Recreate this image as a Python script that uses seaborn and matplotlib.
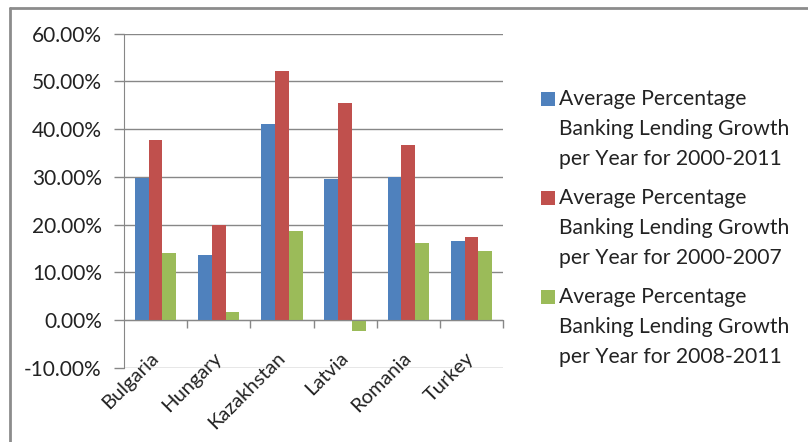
import matplotlib
matplotlib.use("Agg")
import matplotlib.pyplot as plt
from matplotlib.ticker import PercentFormatter, FixedLocator
from matplotlib.lines import Line2D
from matplotlib.patches import Rectangle
import seaborn as sns
import pandas as pd

countries = ["Bulgaria", "Hungary", "Kazakhstan", "Latvia", "Romania", "Turkey"]
growth_2000_2011 = [29.7, 13.7, 41.0, 29.5, 30.0, 16.5]
growth_2000_2007 = [37.7, 19.9, 52.1, 45.4, 36.7, 17.4]
growth_2008_2011 = [14.1, 1.7, 18.6, -2.3, 16.2, 14.6]
series_labels = [
    "Average Percentage\nBanking Lending Growth\nper Year for 2000-2011",
    "Average Percentage\nBanking Lending Growth\nper Year for 2000-2007",
    "Average Percentage\nBanking Lending Growth\nper Year for 2008-2011",
]
colors = ["#4F81BD", "#C0504D", "#9BBB59"]
y_ticks = [-10, 0, 10, 20, 30, 40, 50, 60]

sns.set_style("white")
plt.rcParams["font.family"] = ["Lato", "DejaVu Sans"]
plt.rcParams["axes.unicode_minus"] = False

rows = []
for label, vals in zip(series_labels, [growth_2000_2011, growth_2000_2007, growth_2008_2011]):
    for c, v in zip(countries, vals):
        rows.append({"Country": c, "Series": label, "Growth": v})
df = pd.DataFrame(rows)

W, H = 808, 442
fig = plt.figure(figsize=(W / 100, H / 100), dpi=100)
ax = fig.add_axes([124 / W, 1 - 368 / H, (503 - 124) / W, (368 - 33.7) / H])

sns.barplot(data=df, x="Country", y="Growth", hue="Series", order=countries,
            hue_order=series_labels, palette=colors, errorbar=None,
            width=0.656, linewidth=0, saturation=1, legend=False, ax=ax)

grid_c = "#878787"
text_c = "#222222"
ax.set_xlim(-0.5, 5.5)
ax.set_ylim(-10, 60)
ax.yaxis.set_major_locator(FixedLocator(y_ticks))
ax.yaxis.set_major_formatter(PercentFormatter(xmax=100, decimals=2))
ax.set_axisbelow(True)
ax.yaxis.grid(True, color=grid_c, linewidth=1)
ax.xaxis.grid(False)
ax.set_xlabel("")
ax.set_ylabel("")

for s in ["top", "right"]:
    ax.spines[s].set_visible(False)
ax.spines["left"].set_color(grid_c)
ax.spines["bottom"].set_color(grid_c)
ax.spines["bottom"].set_position(("data", 0))

ax.tick_params(axis="y", which="major", direction="out", length=7, width=1,
               color=grid_c, pad=9, labelsize=15, labelcolor=text_c, left=True)
ax.set_xticks(range(len(countries)))
ax.set_xticklabels(countries, rotation=45, ha="right", va="center",
                   rotation_mode="anchor")
ax.tick_params(axis="x", which="major", length=0, pad=25, labelsize=14.5,
               labelcolor=text_c, bottom=True)
ax.set_xticks([i + 0.5 for i in range(len(countries))], minor=True)
ax.tick_params(axis="x", which="minor", direction="out", length=6, width=1,
               color=grid_c, bottom=True)

# legend: colour square beside the first line of each three-line label
for i, (label, col) in enumerate(zip(series_labels, colors)):
    top = 92 + i * 99.2
    fig.add_artist(Rectangle((541 / W, 1 - (top + 14) / H), 14 / W, 14 / H,
                             facecolor=col, edgecolor="none",
                             transform=fig.transFigure))
    fig.text(559 / W, 1 - (top - 3) / H, label, ha="left", va="top",
             fontsize=15.2, color=text_c, linespacing=1.62)

# outer chart frame
frame_c = "#8c8c8c"
fig.add_artist(Line2D([10 / W, 1], [1 - 7.5 / H, 1 - 7.5 / H], color=frame_c, lw=2,
                      transform=fig.transFigure))
fig.add_artist(Line2D([10 / W, 10 / W], [0, 1 - 7.5 / H], color=frame_c, lw=2,
                      transform=fig.transFigure))

fig.savefig("out.png", dpi=100)
